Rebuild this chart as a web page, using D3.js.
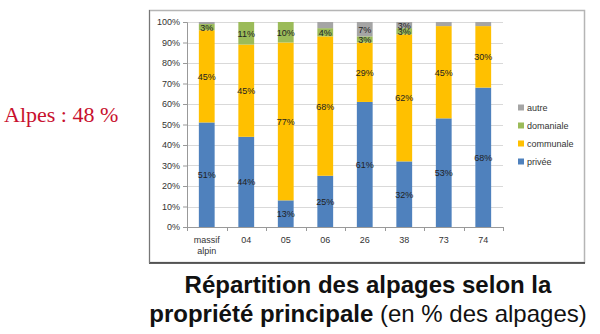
<!DOCTYPE html>
<html><head><meta charset="utf-8">
<script src="https://cdn.jsdelivr.net/npm/d3@7"></script>
<style>body{margin:0;background:#fff;} svg{display:block;}</style>
</head><body>
<svg id="c" width="600" height="334"></svg>
<script>
const categories = ["massif alpin","04","05","06","26","38","73","74"];
const privee     = [51,44,13,25,61,32,53,68];
const communale  = [45,45,77,68,29,62,45,30];
const domaniale  = [3,11,10,4,3,3,0,0];
const autre      = [1,0,0,3,7,3,2,2];
const seriesNames = ["privée","communale","domaniale","autre"];
const seriesColors = ["#4F81BD","#FFC000","#9BBB59","#A5A5A5"];
const yTicks = [0,10,20,30,40,50,60,70,80,90,100];
const labelShown = [
  [true,true,true,true,true,true,true,true],
  [true,true,true,true,true,true,true,true],
  [true,true,true,true,true,true,false,false],
  [false,false,false,false,true,true,false,false]
];

const svg = d3.select("#c");
const rows = categories.map((c,i)=>({cat:c, "privée":privee[i], communale:communale[i], domaniale:domaniale[i], autre:autre[i]}));
const stacked = d3.stack().keys(seriesNames)(rows);
const FONT = "Liberation Sans, Arial, sans-serif";

// chart frame
svg.append("rect").attr("x",149.5).attr("y",10.5).attr("width",435).attr("height",252)
  .attr("fill","#fff").attr("stroke","#b5b5b5").attr("stroke-width",1.5);
svg.append("line").attr("x1",149).attr("x2",585).attr("y1",263).attr("y2",263).attr("stroke","#333").attr("stroke-width",1.5);
svg.append("line").attr("x1",149.5).attr("x2",149.5).attr("y1",10).attr("y2",263).attr("stroke","#777").attr("stroke-width",1);

const x = d3.scaleBand().domain(categories).range([187,503]).paddingInner(0.6).paddingOuter(0.3);
const xb = d3.scaleBand().domain(categories).range([187,503]);
const y = d3.scaleLinear().domain([0,100]).range([227,22]);

// gridlines
svg.append("g").selectAll("line").data(yTicks.filter(t=>t>0)).join("line")
  .attr("x1",187).attr("x2",503).attr("y1",d=>Math.round(y(d))+0.5).attr("y2",d=>Math.round(y(d))+0.5)
  .attr("stroke","#d9d9d9").attr("stroke-width",1);

// y axis
const yAxis = d3.axisLeft(y).tickValues(yTicks).tickFormat(d=>d+"%").tickSize(4).tickPadding(3);
const gy = svg.append("g").attr("transform","translate(187,0)").call(yAxis);
gy.select(".domain").attr("stroke","#999");
gy.selectAll(".tick line").attr("stroke","#999");
gy.selectAll("text").attr("font-family",FONT).attr("font-size",9).attr("fill","#333");

// bars
svg.append("g").selectAll("g").data(stacked).join("g")
  .attr("fill",(d,i)=>seriesColors[i])
  .selectAll("rect").data(d=>d).join("rect")
  .attr("x",d=>x(d.data.cat)).attr("width",x.bandwidth())
  .attr("y",d=>y(d[1])).attr("height",d=>y(d[0])-y(d[1]));

// x axis
const gx = svg.append("g").attr("transform","translate(0,227)");
gx.append("line").attr("x1",187).attr("x2",503).attr("y1",0.5).attr("y2",0.5).attr("stroke","#999");
gx.selectAll("line.tk").data(categories.concat(["_end"])).join("line").attr("class","tk")
  .attr("x1",(d,i)=>Math.round(187+i*xb.bandwidth())+0.5).attr("x2",(d,i)=>Math.round(187+i*xb.bandwidth())+0.5)
  .attr("y1",0).attr("y2",4).attr("stroke","#999");
gx.selectAll("text").data(categories).join("text")
  .attr("x",d=>xb(d)+xb.bandwidth()/2).attr("y",16)
  .attr("text-anchor","middle").attr("font-family",FONT).attr("font-size",9).attr("fill","#333")
  .each(function(d){
    const parts = d.split(" ");
    const t = d3.select(this);
    parts.forEach((p,k)=>t.append("tspan").attr("x",xb(d)+xb.bandwidth()/2).attr("dy",k===0?0:11).text(p));
  });

// data labels
stacked.forEach((s,si)=>{
  svg.append("g").selectAll("text").data(s.filter((d,i)=>labelShown[si][i])).join("text")
    .attr("x",d=>x(d.data.cat)+x.bandwidth()/2)
    .attr("y",d=>y((d[0]+d[1])/2)+3.5)
    .attr("text-anchor","middle").attr("font-family",FONT).attr("font-size",9).attr("fill","#222")
    .text(d=>Math.round(d[1]-d[0])+"%");
});

// legend
const legendOrder = [3,2,1,0];
const lg = svg.append("g");
legendOrder.forEach((si,k)=>{
  const ly = 111 + k*18;
  lg.append("rect").attr("x",518).attr("y",ly-6.5).attr("width",6).attr("height",6).attr("fill",seriesColors[si]);
  lg.append("text").attr("x",527).attr("y",ly).attr("font-family",FONT).attr("font-size",9).attr("fill","#333").text(seriesNames[si]);
});

// side note
svg.append("text").attr("x",4).attr("y",122).attr("font-family","Liberation Serif, Times New Roman, serif").attr("font-size",22).attr("fill","#C8102E").text("Alpes : 48 %");

// title
svg.append("text").attr("x",368).attr("y",293).attr("text-anchor","middle")
  .attr("font-family",FONT).attr("font-size",24).attr("font-weight","bold").attr("fill","#111")
  .text("Répartition des alpages selon la");
const t2 = svg.append("text").attr("x",368).attr("y",322).attr("text-anchor","middle")
  .attr("font-family",FONT).attr("font-size",24).attr("fill","#111");
t2.append("tspan").attr("font-weight","bold").text("propriété principale");
t2.append("tspan").text(" (en % des alpages)");
</script>
</body></html>
